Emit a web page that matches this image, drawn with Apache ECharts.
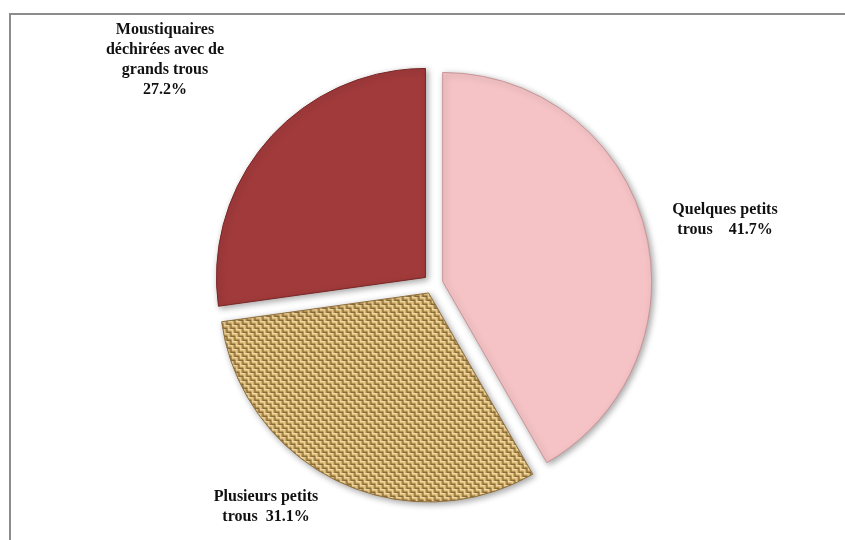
<!DOCTYPE html>
<html>
<head>
<meta charset="utf-8">
<style>
  html, body { margin: 0; padding: 0; background: #ffffff; }
  #chart { width: 845px; height: 540px; }
</style>
<script src="https://cdn.jsdelivr.net/npm/echarts@6/dist/echarts.min.js"></script>
</head>
<body>
<div id="chart"></div>
<script>
// Net condition categories (clockwise from the top) and their shares in %
const categories = ['Quelques petits\ntrous', 'Plusieurs petits\ntrous', 'Moustiquaires\ndéchirées avec de\ngrands trous'];
const shares = [41.7, 31.1, 27.2];

// Text placed between a category name and its percentage
const valueSeparators = ['    ', '  ', '\n'];
// Where each label block sits (centre x, top y)
const labelAnchors = [[725, 200], [266, 487], [165, 20]];

// Woven burlap texture drawn into a small repeating tile
function burlapTile() {
  const c = document.createElement('canvas');
  c.width = 8; c.height = 8;
  const g = c.getContext('2d');
  const shades = ['#f2dca2', '#dcbd7c', '#bb9555', '#8d6c38'];
  for (let y = 0; y < 8; y++) {
    for (let x = 0; x < 8; x++) {
      const horiz = ((x >> 2) + (y >> 2)) % 2 === 0;
      const k = horiz ? y % 4 : x % 4;
      g.fillStyle = shades[k];
      g.fillRect(x, y, 1, 1);
    }
  }
  return c;
}

const sliceStyles = [
  { color: '#f5c3c5', borderColor: '#c99597', borderWidth: 1 },
  { color: { image: burlapTile(), repeat: 'repeat' }, borderColor: '#8e6e3c', borderWidth: 1 },
  { color: '#a13a3b', borderColor: '#7a2626', borderWidth: 1 }
];

// Category labels with their percentages
const labelTexts = categories.map((name, i) => ({
  type: 'text',
  silent: true,
  style: {
    text: name + valueSeparators[i] + shares[i].toFixed(1) + '%',
    x: labelAnchors[i][0],
    y: labelAnchors[i][1],
    align: 'center',
    verticalAlign: 'top',
    font: 'bold 16px "Liberation Serif"',
    lineHeight: 20,
    fill: '#111111'
  }
}));

const chart = echarts.init(document.getElementById('chart'), null, { renderer: 'canvas' });

chart.setOption({
  animation: false,
  backgroundColor: '#ffffff',
  graphic: [{
    type: 'rect',
    silent: true,
    shape: { x: 10, y: 14, width: 900, height: 600 },
    style: { fill: 'none', stroke: '#8c8c8c', lineWidth: 2 }
  }].concat(labelTexts),
  series: [{
    type: 'pie',
    center: [433, 284],
    radius: 209,
    startAngle: 90,
    clockwise: true,
    selectedMode: 'multiple',
    selectedOffset: 10,
    emphasis: { disabled: true },
    label: { show: false },
    labelLine: { show: false },
    itemStyle: {
      shadowBlur: 6,
      shadowColor: 'rgba(0,0,0,0.35)',
      shadowOffsetX: 2,
      shadowOffsetY: 2
    },
    data: categories.map((name, i) => ({
      name: name,
      value: shares[i],
      selected: true,
      itemStyle: sliceStyles[i]
    }))
  }]
});
</script>
</body>
</html>
